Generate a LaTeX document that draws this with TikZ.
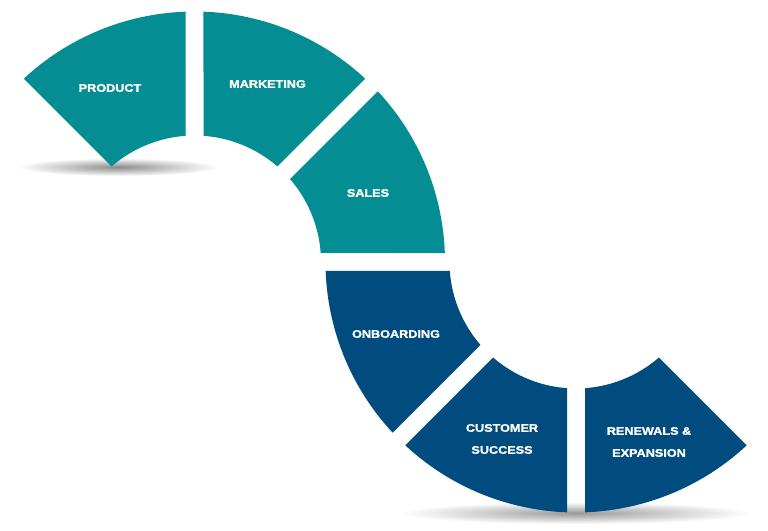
\documentclass[tikz,border=0pt]{standalone}
\usepackage{fontspec}
\newfontfamily\labfont{Liberation Sans Bold}[FakeStretch=1.15,FakeBold=1.5]
\definecolor{tealc}{RGB}{4,142,147}
\definecolor{navyc}{RGB}{0,76,127}
\begin{document}
\begin{tikzpicture}[x=1pt,y=1pt,
  lab/.style={text=white,font=\labfont\fontsize{11}{22}\selectfont,align=center,inner sep=0pt}]
\useasboundingbox[fill=white] (0,0) rectangle (768,530);
\pgfmathsetmacro\rin{126.5}
\pgfmathsetmacro\rout{250.5}
\pgfmathsetmacro\ai{asin(9/\rin)}
\pgfmathsetmacro\ao{asin(9/\rout)}
\newcommand\mysector[4]{% color, center, a1, a2
  \fill[#1,shift={#2}] ({#3+\ai}:\rin pt) -- ({#3+\ao}:\rout pt)
    arc[start angle={#3+\ao}, end angle={#4-\ao}, radius=\rout pt]
    -- ({#4-\ai}:\rin pt)
    arc[start angle={#4-\ai}, end angle={#3+\ai}, radius=\rin pt] -- cycle;}
% shadows
\shade[inner color=black!45, outer color=white] (118,363) ellipse [x radius=100pt, y radius=9pt];
\shade[inner color=black!40, outer color=white] (576,17) ellipse [x radius=175pt, y radius=11pt];
% rings
\coordinate (cu) at (194.5,268);
\coordinate (cl) at (576,268);
\mysector{tealc}{(194.5,268)}{90}{135}
\mysector{tealc}{(194.5,268)}{45}{90}
\mysector{tealc}{(194.5,268)}{0}{45}
\mysector{navyc}{(576,268)}{180}{225}
\mysector{navyc}{(576,268)}{225}{270}
\mysector{navyc}{(576,268)}{270}{315}
% labels
\node[lab] (product) at (110,442) {PRODUCT};
\node[lab] (marketing) at (267.5,446) {MARKETING};
\node[lab] (sales) at (368,337) {SALES};
\node[lab] (onboarding) at (396,196) {ONBOARDING};
\node[lab] (cs) at (502,91) {CUSTOMER\\SUCCESS};
\node[lab] (renew) at (649,88) {RENEWALS \&\\EXPANSION};
\end{tikzpicture}
\end{document}
